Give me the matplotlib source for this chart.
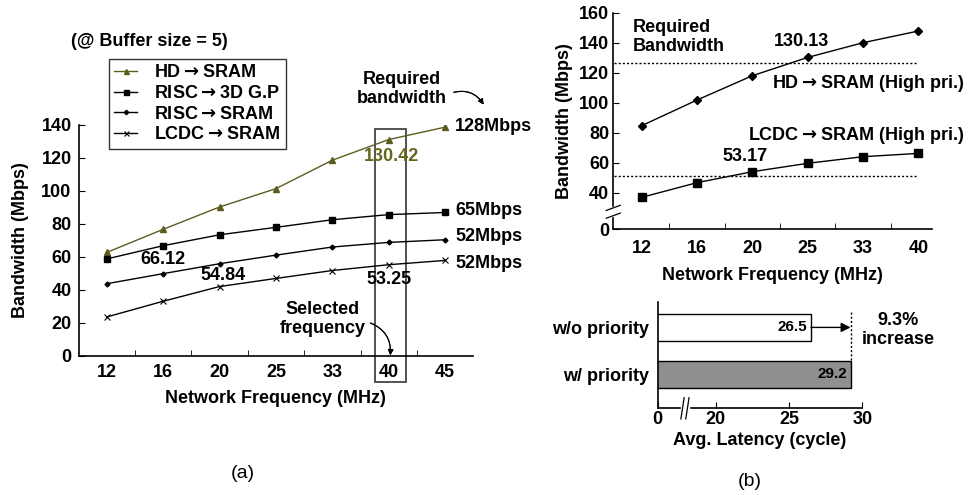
import matplotlib
matplotlib.use("Agg")
import matplotlib.pyplot as plt
from matplotlib.patches import Rectangle
import numpy as np

plt.rcParams['font.family'] = ['Liberation Sans', 'DejaVu Sans']
plt.rcParams['font.weight'] = 'bold'
plt.rcParams['axes.labelweight'] = 'bold'

W, H = 971, 495
ARW = r'$\rightarrow$'

# ---- data, panel (a)
freq_a = ['12', '16', '20', '25', '33', '40', '45']
hd_sram = [62.6, 76.6, 90.1, 101.2, 118.4, 130.9, 138.4]
risc_3d = [58.7, 66.7, 73.3, 77.8, 82.4, 85.5, 86.8]
risc_sram = [43.7, 49.8, 55.8, 61.0, 65.9, 68.7, 70.3]
lcdc_sram = [23.6, 33.1, 42.0, 46.9, 51.7, 55.2, 57.8]
req_a = ['128Mbps', '65Mbps', '52Mbps', '52Mbps']

# ---- data, panel (b) top
freq_b = ['12', '16', '20', '25', '33', '40']
hd_hi = [84.7, 101.8, 118.0, 130.2, 140.0, 147.8]
lcdc_hi = [36.9, 46.7, 54.0, 59.6, 64.0, 66.2]
req_b = [126.7, 51.3]

# ---- data, panel (b) bottom
lat_cats = ['w/ priority', 'w/o priority']
latency = [29.2, 26.5]


def fp(x, y):
    # pixel position -> figure fraction
    return (x / W, 1 - y / H)


fig = plt.figure(figsize=(9.71, 4.95), dpi=100)
fs = 13

# ================= panel (a)
ax = fig.add_axes([78.5 / W, 1 - 356 / H, 394.8 / W, 231.5 / H])
xa = np.arange(len(freq_a))
olive = '#5c5c1f'
ax.plot(xa, hd_sram, color=olive, marker='^', ms=4, lw=1, label=f'HD{ARW}SRAM')
ax.plot(xa, risc_3d, color='black', marker='s', ms=4, lw=1, label=f'RISC{ARW}3D G.P')
ax.plot(xa, risc_sram, color='black', marker='D', ms=2.5, lw=1, label=f'RISC{ARW}SRAM')
ax.plot(xa, lcdc_sram, color='black', marker='x', ms=4, mew=0.8, lw=1, label=f'LCDC{ARW}SRAM')
ax.set_xlim(-0.5, 6.5)
ax.set_ylim(0, 140)
ax.set_yticks(range(0, 141, 20))
ax.set_xticks(xa)
ax.set_xticklabels(freq_a)
ax.set_xticks(np.arange(0.5, 6.5, 1), minor=True)
ax.tick_params(axis='x', which='major', length=0, pad=6, labelsize=fs)
ax.tick_params(axis='x', which='minor', direction='in', length=4)
ax.tick_params(axis='y', direction='in', length=4, labelsize=fs, pad=5)
for s in ['top', 'right']:
    ax.spines[s].set_visible(False)
ax.spines['left'].set_linewidth(1.2)
ax.spines['bottom'].set_linewidth(1.2)
ax.set_ylabel('Bandwidth (Mbps)', fontsize=fs, labelpad=9)
ax.set_xlabel('Network Frequency (MHz)', fontsize=fs, labelpad=6)

leg = ax.legend(loc='upper left', bbox_to_anchor=fp(108.5, 59), bbox_transform=fig.transFigure,
                frameon=True, fancybox=False, edgecolor='black', fontsize=fs,
                handlelength=1.3, handletextpad=0.9, labelspacing=0.2, borderpad=0.3,
                borderaxespad=0, markerscale=0.9)
leg.get_frame().set_linewidth(1.0)

ax.add_patch(Rectangle((4.757, -15.6), 0.55, 152.6, fill=False, edgecolor='#444444',
                       lw=1.3, clip_on=False))
for yy, t in zip([126.7, 210, 236.7, 264], req_a):
    fig.text(*fp(455, yy), t, fontsize=fs, ha='left', va='center')
ax.text(1.0, 58.5, '66.12', fontsize=fs, ha='center', va='center')
ax.text(2.06, 48.5, '54.84', fontsize=fs, ha='center', va='center')
ax.text(5.01, 46.5, '53.25', fontsize=fs, ha='center', va='center')
ax.text(5.05, 120.5, '130.42', fontsize=fs, ha='center', va='center', color='#66661f')

fig.text(*fp(71, 41), '(@ Buffer size = 5)', fontsize=fs, ha='left', va='center')
fig.text(*fp(401.7, 89), 'Required\nbandwidth', fontsize=fs, ha='center', va='center',
         linespacing=1.1)
fig.text(*fp(323, 319), 'Selected\nfrequency', fontsize=fs, ha='center', va='center',
         linespacing=1.1)
fig.text(*fp(243, 473), '(a)', fontsize=14, ha='center', va='center', weight='normal')
fig.add_artist(plt.annotate('', xy=fp(485, 107), xytext=fp(451, 93),
                            xycoords='figure fraction', textcoords='figure fraction',
                            arrowprops=dict(arrowstyle='-|>', lw=0.8, color='black',
                                            connectionstyle='arc3,rad=-0.4',
                                            mutation_scale=8)))
fig.add_artist(plt.annotate('', xy=fp(390, 358), xytext=fp(368, 322),
                            xycoords='figure fraction', textcoords='figure fraction',
                            arrowprops=dict(arrowstyle='-|>', lw=0.8, color='black',
                                            connectionstyle='arc3,rad=-0.4',
                                            mutation_scale=8)))

# ================= panel (b) top
bx = fig.add_axes([613.3 / W, 1 - 229.3 / H, 318.4 / W, 216.6 / H])
xb = np.arange(len(freq_b))
bx.plot(xb, hd_hi, color='black', marker='D', ms=4, lw=1)
bx.plot(xb, lcdc_hi, color='black', marker='s', ms=5.5, lw=1)
for r in req_b:
    bx.plot([-0.5, 5.0], [r, r], color='black', lw=1, ls=(0, (1.5, 1.5)))
bx.set_xlim(-0.514, 5.24)
bx.set_ylim(15.6, 160)
bx.set_yticks([15.6] + list(range(40, 161, 20)))
bx.set_yticklabels(['0'] + [str(v) for v in range(40, 161, 20)])
bx.set_xticks(xb)
bx.set_xticklabels(freq_b)
bx.set_xticks(np.arange(0.5, 5, 1), minor=True)
bx.tick_params(axis='x', which='major', length=0, pad=8, labelsize=fs)
bx.tick_params(axis='x', which='minor', direction='in', length=4)
bx.tick_params(axis='y', direction='in', length=4, labelsize=fs, pad=3)
for s in ['top', 'right']:
    bx.spines[s].set_visible(False)
bx.spines['left'].set_linewidth(1.2)
bx.spines['bottom'].set_linewidth(1.2)
bx.set_ylabel('Bandwidth (Mbps)', fontsize=fs, labelpad=4)
bx.set_xlabel('Network Frequency (MHz)', fontsize=fs, labelpad=7)
# axis break
yb = (27.3 - 15.6) / (160 - 15.6)
bx.add_patch(Rectangle((-0.01, yb - 0.02), 0.02, 0.04, transform=bx.transAxes,
                       color='white', clip_on=False, zorder=5))
for dy in (-0.018, 0.018):
    bx.plot([-0.022, 0.022], [yb + dy - 0.012, yb + dy + 0.012], transform=bx.transAxes,
            color='black', lw=0.9, clip_on=False, zorder=6)

fig.text(*fp(633, 37), 'Required\nBandwidth', fontsize=fs, ha='left', va='center',
         linespacing=1.1)
fig.text(*fp(801.7, 41.7), '130.13', fontsize=fs, ha='center', va='center')
fig.text(*fp(965, 83.3), f'HD{ARW}SRAM (High pri.)', fontsize=fs, ha='right', va='center')
fig.text(*fp(965, 135), f'LCDC{ARW}SRAM (High pri.)', fontsize=fs, ha='right', va='center')
fig.text(*fp(745, 156.7), '53.17', fontsize=fs, ha='center', va='center')

# ================= panel (b) bottom
cx = fig.add_axes([657.7 / W, 1 - 408.3 / H, 204.6 / W, 106.6 / H])
yc = np.arange(len(lat_cats))
cx.barh(yc, latency, height=0.58, left=0, color=['#8f8f8f', 'white'],
        edgecolor='black', lw=1)
cx.set_xlim(16.04, 30)
cx.set_ylim(-0.73, 1.55)
cx.set_xticks([16.04, 20, 25, 30])
cx.set_xticklabels(['0', '20', '25', '30'])
cx.set_yticks(yc)
cx.set_yticklabels(lat_cats)
cx.tick_params(axis='x', direction='in', length=4, labelsize=fs, pad=2)
cx.tick_params(axis='y', length=0, labelsize=fs, pad=6)
for s in ['top', 'right']:
    cx.spines[s].set_visible(False)
cx.spines['left'].set_linewidth(1.2)
cx.spines['bottom'].set_linewidth(1.2)
cx.set_xlabel('Avg. Latency (cycle)', fontsize=fs, labelpad=3)
for yv, v in zip(yc, latency):
    cx.text(v - 0.25, yv, f'{v}', fontsize=11, ha='right', va='center')
cx.plot([latency[0], latency[0]], [0.3, 1.35], color='black', lw=1, ls=(0, (1.5, 1.5)))
cx.annotate('', xy=(latency[0], 1), xytext=(latency[1], 1),
            arrowprops=dict(arrowstyle='-|>', lw=1, color='black', mutation_scale=14,
                            shrinkA=0, shrinkB=0))
xbk = (17.9 - 16.04) / (30 - 16.04)
cx.add_patch(Rectangle((xbk - 0.02, -0.03), 0.04, 0.06, transform=cx.transAxes,
                       color='white', clip_on=False, zorder=5))
for dx in (-0.012, 0.012):
    cx.plot([xbk + dx - 0.008, xbk + dx + 0.008], [-0.1, 0.1], transform=cx.transAxes,
            color='black', lw=0.9, clip_on=False, zorder=6)
fig.text(*fp(898, 330), '9.3%\nincrease', fontsize=fs, ha='center', va='center',
         linespacing=1.1)
fig.text(*fp(750, 482), '(b)', fontsize=14, ha='center', va='center', weight='normal')

fig.savefig('out.png', dpi=100)
